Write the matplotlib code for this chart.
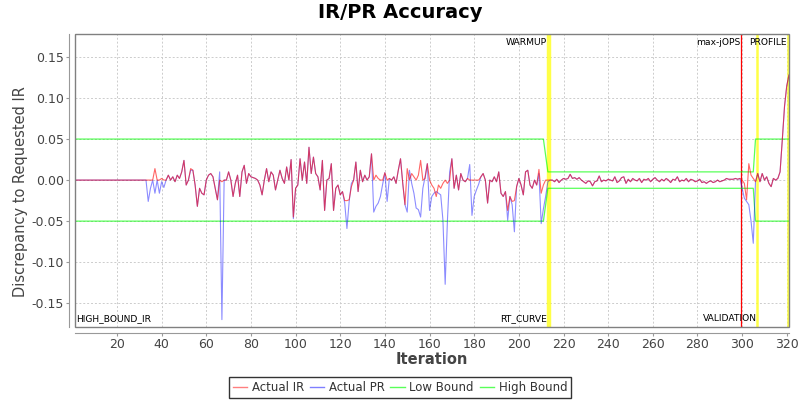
import matplotlib
matplotlib.use("Agg")
import matplotlib.pyplot as plt
import matplotlib.transforms as mtransforms
from matplotlib.patches import Rectangle
from matplotlib.lines import Line2D
import numpy as np

plt.rcParams['font.family'] = ['DejaVu Sans']
plt.rcParams['axes.unicode_minus'] = False

# Actual IR, one value per iteration (1..321)
actual_ir = [
    0.0, 0.0, 0.0, 0.0, 0.0, 0.0, 0.0, 0.0, 0.0, 0.0,
    0.0, 0.0, 0.0, 0.0, 0.0, 0.0, 0.0, 0.0, 0.0, 0.0,
    0.0, 0.0, 0.0, 0.0, 0.0, 0.0, 0.0, 0.0, 0.0, 0.0,
    0.0, 0.0,
    0.0, 0.0, 0.0, 0.0, 0.014, 0.0, 0.0, 0.002, 0.0, 0.0,
    0.006, 0.0, 0.004, -0.002, 0.006, 0.002, 0.010, 0.024, -0.006, 0.0,
    0.014, 0.012, -0.006, -0.032, -0.010, -0.016, -0.018, 0.0, 0.006, 0.008,
    0.004, -0.010, -0.024, 0.0, -0.002, 0.0, 0.0, 0.010, 0.0, -0.020,
    -0.004, 0.006, -0.020, 0.010, 0.018, -0.004, 0.008, 0.004, 0.003, 0.002,
    0.0, -0.006, -0.018, 0.0, 0.014, -0.002, 0.010, 0.006, -0.012, 0.0,
    0.012, 0.002, -0.004, 0.016, 0.0, 0.025, -0.045, -0.010, -0.006, 0.026,
    0.0, 0.022, -0.004, 0.040, 0.008, 0.028, 0.008, 0.004, -0.012, 0.024,
    -0.037, 0.0, 0.002, 0.020, -0.037, -0.010, -0.006, -0.018, -0.014, -0.025,
    -0.025, -0.024, -0.008, 0.0, 0.022, -0.014, 0.012, -0.002, 0.006, 0.0,
    0.004, 0.032, 0.0, 0.006, 0.002, 0.0, 0.0, 0.009, 0.0, 0.002,
    0.0, 0.004, -0.004, 0.012, 0.026, -0.004, -0.030, 0.014, 0.0, 0.008,
    0.004, 0.0, 0.006, 0.024, 0.0, 0.002, 0.020, 0.0, -0.006, -0.010,
    -0.020, -0.006, -0.010, -0.004, 0.0, -0.004, 0.0, 0.026, -0.010, 0.006,
    -0.012, 0.008, 0.0, -0.002, 0.002, 0.0, 0.0, 0.0, 0.0, 0.0,
    0.004, 0.008, 0.0, -0.028, 0.0, -0.002, 0.004, -0.002, 0.010, -0.016,
    -0.020, -0.014, -0.037, -0.020, -0.026, -0.025, -0.008, 0.002, -0.006, -0.018,
    0.010, 0.012, -0.006, -0.010, 0.0, -0.006, 0.013, -0.016, -0.006, 0.0,
    0.0, 0.0,
    0.000, -0.002, 0.001, -0.003, 0.000, 0.002, 0.001, 0.002, 0.007, 0.002,
    0.003, 0.001, 0.003, 0.000, -0.002, -0.004, -0.001, -0.002, -0.007, -0.002,
    -0.001, 0.005, -0.002, 0.000, -0.001, 0.001, 0.000, -0.001, 0.004, -0.003,
    -0.001, 0.003, 0.004, -0.004, 0.001, -0.002, 0.002, 0.000, -0.001, 0.002,
    -0.003, 0.001, 0.000, 0.002, -0.002, 0.001, 0.003, 0.000, -0.002, 0.001,
    -0.001, 0.002, 0.000, -0.003, 0.001, 0.000, 0.004, -0.002, 0.000, -0.001,
    0.002, -0.002, 0.001, 0.000, -0.002, -0.001, 0.001, -0.003, -0.002, -0.004,
    -0.002, -0.001, -0.003, -0.002, 0.000, -0.002, -0.001, 0.000, 0.002, 0.001,
    0.001, 0.001, 0.002, 0.001, 0.002,
    0.0, -0.004, -0.024, 0.020, 0.006, 0.002, -0.002,
    0.008, -0.002, 0.008, 0.0, 0.004, -0.004, -0.008, 0.002, 0.0, 0.002,
    0.010, 0.049, 0.090, 0.115, 0.128,
]

# Actual PR, one value per iteration (1..321)
actual_pr = [
    0.0, 0.0, 0.0, 0.0, 0.0, 0.0, 0.0, 0.0, 0.0, 0.0,
    0.0, 0.0, 0.0, 0.0, 0.0, 0.0, 0.0, 0.0, 0.0, 0.0,
    0.0, 0.0, 0.0, 0.0, 0.0, 0.0, 0.0, 0.0, 0.0, 0.0,
    0.0, 0.0,
    0.0, -0.026, -0.010, 0.0, -0.016, 0.0, -0.016, -0.002, -0.009, 0.0,
    0.006, 0.0, 0.004, -0.002, 0.006, 0.002, 0.010, 0.024, -0.006, 0.0,
    0.012, 0.012, -0.006, -0.032, -0.010, -0.016, -0.018, 0.0, 0.006, 0.008,
    0.004, -0.010, -0.024, 0.010, -0.170, 0.0, 0.0, 0.010, 0.0, -0.020,
    -0.004, 0.006, -0.020, 0.010, 0.018, -0.004, 0.008, 0.004, 0.003, 0.002,
    0.0, -0.006, -0.018, 0.0, 0.014, -0.002, 0.010, 0.006, -0.012, 0.0,
    0.012, 0.002, -0.004, 0.016, 0.0, 0.025, -0.047, -0.010, -0.006, 0.026,
    0.0, 0.022, -0.004, 0.040, 0.008, 0.028, 0.008, 0.004, -0.012, 0.024,
    -0.037, 0.0, 0.002, 0.020, -0.037, -0.010, -0.006, -0.018, -0.014, -0.028,
    -0.059, -0.026, -0.004, 0.0, 0.022, -0.014, 0.012, -0.002, 0.006, 0.0,
    0.004, 0.032, -0.039, -0.032, -0.028, -0.020, -0.005, 0.009, -0.026, 0.002,
    0.0, 0.004, -0.004, 0.012, 0.026, -0.004, -0.030, -0.039, 0.012, -0.004,
    -0.016, -0.034, -0.036, -0.045, -0.010, 0.004, 0.020, -0.037, -0.020, -0.016,
    -0.014, -0.016, -0.018, -0.049, -0.127, -0.050, 0.010, 0.026, -0.010, 0.006,
    -0.012, 0.008, 0.0, -0.002, 0.002, 0.019, -0.043, -0.020, -0.012, -0.005,
    0.004, 0.008, 0.0, -0.028, 0.0, -0.002, 0.004, -0.002, 0.010, -0.016,
    -0.020, -0.014, -0.049, -0.020, -0.030, -0.063, -0.008, 0.002, -0.006, -0.018,
    0.010, 0.012, -0.006, -0.010, 0.0, -0.006, 0.008, -0.053, -0.035, -0.020,
    -0.002, 0.0,
    0.000, -0.002, 0.001, -0.003, 0.000, 0.002, 0.001, 0.002, 0.007, 0.002,
    0.003, 0.001, 0.003, 0.000, -0.002, -0.004, -0.001, -0.002, -0.007, -0.002,
    -0.001, 0.005, -0.002, 0.000, -0.001, 0.001, 0.000, -0.001, 0.004, -0.003,
    -0.001, 0.003, 0.004, -0.004, 0.001, -0.002, 0.002, 0.000, -0.001, 0.002,
    -0.003, 0.001, 0.000, 0.002, -0.002, 0.001, 0.003, 0.000, -0.002, 0.001,
    -0.001, 0.002, 0.000, -0.003, 0.001, 0.000, 0.004, -0.002, 0.000, -0.001,
    0.002, -0.002, 0.001, 0.000, -0.002, -0.001, 0.001, -0.003, -0.002, -0.004,
    -0.002, -0.001, -0.003, -0.002, 0.000, -0.002, -0.001, 0.000, 0.002, 0.001,
    0.001, 0.001, 0.002, 0.001, 0.002,
    -0.010, -0.022, -0.026, -0.030, -0.050, -0.077, -0.002,
    0.008, -0.002, 0.008, 0.0, 0.004, -0.004, -0.008, 0.002, 0.0, 0.002,
    0.010, 0.049, 0.090, 0.115, 0.128,
]

# bound corner points
bound_iter = [1, 211, 213, 305, 306, 321]
high_bound = [0.05, 0.05, 0.01, 0.01, 0.05, 0.05]
low_bound = [-0.05, -0.05, -0.01, -0.01, -0.05, -0.05]

# phase markers
marker_names = ['HIGH_BOUND_IR', 'WARMUP', 'RT_CURVE', 'max-jOPS', 'VALIDATION', 'PROFILE']
marker_iter = [1.2, 213.7, 213.7, 299.7, 306.7, 320.6]

assert len(actual_ir) == 321, len(actual_ir)
assert len(actual_pr) == 321, len(actual_pr)
iterations = np.arange(1, len(actual_ir) + 1)

fig = plt.figure(figsize=(8, 4), dpi=100, facecolor='w')
ax = fig.add_axes([75 / 800, 1 - 327 / 400, 714 / 800, 293 / 400])

ax.set_xlim(1.2, 321)
ax.set_ylim(-0.179, 0.178)
ax.set_xticks(np.arange(20, 321, 20))
ax.set_yticks([-0.15, -0.10, -0.05, 0.0, 0.05, 0.10, 0.15])
ax.yaxis.set_major_formatter(matplotlib.ticker.FormatStrFormatter('%.2f'))
ax.grid(True, color='#cccccc', lw=0.7, linestyle=(0, (2, 2)))
ax.set_axisbelow(True)

# markers
ax.axvline(marker_iter[0], color='#cccc00', lw=1.2, alpha=0.8, zorder=5)
ax.axvline(marker_iter[1], color='#ffff33', lw=3.2, alpha=0.9, zorder=1)
ax.axvline(marker_iter[3], color='#ff0000', lw=0.9, zorder=1)
ax.axvline(marker_iter[4], color='#ffff33', lw=1.8, alpha=0.9, zorder=1)
ax.axvline(marker_iter[5], color='#ffff33', lw=1.8, alpha=0.9, zorder=1)

ax.plot(bound_iter, low_bound, color=(0, 1, 0), alpha=0.65, lw=0.9, zorder=2)
ax.plot(bound_iter, high_bound, color=(0, 1, 0), alpha=0.65, lw=0.9, zorder=2)
ax.plot(iterations, actual_pr, color=(0, 0, 1), alpha=0.45, lw=0.8, zorder=3)
ax.plot(iterations, actual_ir, color=(1, 0, 0), alpha=0.6, lw=0.8, zorder=4)

trans = mtransforms.blended_transform_factory(ax.transData, ax.transAxes)
lab_kw = dict(fontsize=6.6, color='black', transform=trans, zorder=6)
ax.text(marker_iter[0] + 0.3, 0.03, marker_names[0], ha='left', va='center', **lab_kw)
ax.text(marker_iter[1] - 1.0, 0.97, marker_names[1], ha='right', va='center', **lab_kw)
ax.text(marker_iter[2] - 1.0, 0.03, marker_names[2], ha='right', va='center', **lab_kw)
ax.text(marker_iter[3] - 0.6, 0.97, marker_names[3], ha='right', va='center', **lab_kw)
ax.text(marker_iter[4] - 0.2, 0.03, marker_names[4], ha='right', va='center', **lab_kw)
ax.text(marker_iter[5] - 0.4, 0.97, marker_names[5], ha='right', va='center', **lab_kw)

# JFreeChart-like frame with offset axis lines
for spine in ('top', 'right'):
    ax.spines[spine].set_visible(False)
for spine in ('left', 'bottom'):
    ax.spines[spine].set_position(('outward', 4))
    ax.spines[spine].set_color('#999999')
ax.add_patch(Rectangle((0, 0), 1, 1, transform=ax.transAxes, fill=False,
                       edgecolor='#808080', lw=1.0, zorder=7, clip_on=False))
ax.tick_params(axis='both', colors='#999999', labelcolor='#444444', labelsize=9,
               length=2, pad=2)

fig.text(0.5, 1 - 13 / 400, 'IR/PR Accuracy', ha='center', va='center',
         fontsize=14, fontweight='bold')
fig.text((75 + 789) / 2 / 800, 1 - 359 / 400, 'Iteration', ha='center', va='center',
         fontsize=10.5, fontweight='bold', color='#444444')
fig.text(21 / 800, 1 - 192 / 400, 'Discrepancy to Requested IR', ha='center', va='center',
         rotation=90, fontsize=10.5, color='#444444')

handles = [
    Line2D([], [], color=(1, 0, 0), alpha=0.5, lw=1),
    Line2D([], [], color=(0, 0, 1), alpha=0.5, lw=1),
    Line2D([], [], color=(0, 1, 0), alpha=0.65, lw=1),
    Line2D([], [], color=(0, 1, 0), alpha=0.65, lw=1),
]
leg = fig.legend(handles, ['Actual IR', 'Actual PR', 'Low Bound', 'High Bound'],
                 loc='center', bbox_to_anchor=(0.5, 1 - 387.5 / 400), ncol=4,
                 fontsize=8.5, frameon=True, fancybox=False, handlelength=1.2,
                 handletextpad=0.4, columnspacing=0.5, borderpad=0.3,
                 borderaxespad=0)
leg.get_frame().set_edgecolor('black')
leg.get_frame().set_linewidth(1.0)
for t in leg.get_texts():
    t.set_color('#333333')

plt.savefig('out.png', dpi=100)
